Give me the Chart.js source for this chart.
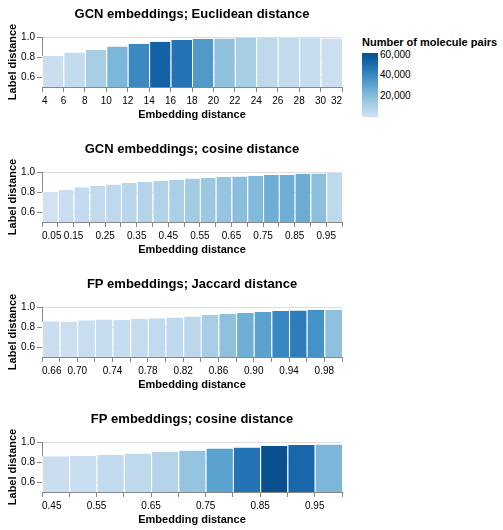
<!DOCTYPE html>
<html>
<head>
<meta charset="utf-8">
<script src="https://cdn.jsdelivr.net/npm/chart.js@4/dist/chart.umd.min.js"></script>
<style>
body { margin: 0; background: #fff; }
#wrap { position: relative; width: 503px; height: 530px; font-family: "Liberation Sans", Arial, sans-serif; }
.plot { position: absolute; left: 0; }
#legendTitle { position: absolute; left: 362px; top: 36px; font-size: 11px; font-weight: bold; line-height: 13px; color: #000; white-space: nowrap; }
#legendBar { position: absolute; left: 362px; top: 53px; width: 16px; height: 64px; }
.legendLabel { position: absolute; left: 380px; font-size: 10px; line-height: 12px; color: #000; }
</style>
</head>
<body>
<div id="wrap">
  <canvas id="gcnEuc" class="plot" width="350" height="135" style="top:0px"></canvas>
  <canvas id="gcnCos" class="plot" width="350" height="135" style="top:135px"></canvas>
  <canvas id="fpJac" class="plot" width="350" height="135" style="top:270px"></canvas>
  <canvas id="fpCos" class="plot" width="350" height="135" style="top:405px"></canvas>
  <div id="legendTitle">Number of molecule pairs</div>
  <div id="legendBar"></div>
</div>
<script>
var FONT = '"Liberation Sans", Arial, sans-serif';

// GCN embeddings; Euclidean distance
var gcnEucEdges = [4, 6, 8, 10, 12, 14, 16, 18, 20, 22, 24, 26, 28, 30, 32];
var gcnEucLabelDist = [0.81, 0.844, 0.871, 0.905, 0.932, 0.953, 0.97, 0.98, 0.986, 0.99, 0.99, 0.99, 0.99, 0.986];
var gcnEucPairs = [2100, 4600, 12500, 23000, 40100, 54200, 48000, 34000, 18700, 12500, 6400, 4600, 3400, 1500];

// GCN embeddings; cosine distance
var gcnCosEdges = [0.05, 0.10, 0.15, 0.20, 0.25, 0.30, 0.35, 0.40, 0.45, 0.50, 0.55, 0.60, 0.65, 0.70, 0.75, 0.80, 0.85, 0.90, 0.95, 1.00];
var gcnCosLabelDist = [0.803, 0.82, 0.847, 0.861, 0.875, 0.89, 0.90, 0.91, 0.92, 0.935, 0.94, 0.95, 0.956, 0.963, 0.97, 0.973, 0.98, 0.986, 0.99];
var gcnCosPairs = [300, 2700, 4600, 5200, 6400, 7600, 8900, 10100, 11900, 13800, 15600, 17400, 19900, 21700, 26000, 26600, 27200, 19300, 6400];

// FP embeddings; Jaccard distance
var fpJacEdges = [0.66, 0.68, 0.70, 0.72, 0.74, 0.76, 0.78, 0.80, 0.82, 0.84, 0.86, 0.88, 0.90, 0.92, 0.94, 0.96, 0.98, 1.00];
var fpJacLabelDist = [0.858, 0.854, 0.868, 0.875, 0.871, 0.88, 0.888, 0.895, 0.905, 0.919, 0.929, 0.939, 0.949, 0.96, 0.966, 0.973, 0.973];
var fpJacPairs = [2100, 1500, 2700, 3400, 3400, 4000, 5200, 5800, 7000, 12500, 18700, 26000, 30900, 40700, 44400, 37000, 18700];

// FP embeddings; cosine distance
var fpCosEdges = [0.45, 0.50, 0.55, 0.60, 0.65, 0.70, 0.75, 0.80, 0.85, 0.90, 0.95, 1.00];
var fpCosLabelDist = [0.858, 0.861, 0.871, 0.885, 0.902, 0.915, 0.936, 0.946, 0.959, 0.969, 0.976];
var fpCosPairs = [2100, 2700, 4600, 5800, 8900, 17400, 30900, 48000, 61500, 52300, 23000];

var yTicks = [0.6, 0.8, 1.0];
var legendTicks = [20000, 40000, 60000];

// vega "blues" scheme
var blues = ['#cfe1f2', '#bed8ec', '#a8cee5', '#8fc1de', '#74b2d7', '#5ba3cf', '#4592c6', '#3181bd', '#206fb2', '#125ea4', '#0a4f90'];

var allPairs = gcnEucPairs.concat(gcnCosPairs, fpJacPairs, fpCosPairs);
var pairMin = Math.min.apply(null, allPairs);
var pairMax = Math.max.apply(null, allPairs);

function hexToRgb(h) {
    return [parseInt(h.substr(1, 2), 16), parseInt(h.substr(3, 2), 16), parseInt(h.substr(5, 2), 16)];
}

function pairColor(n) {
    var t = (n - pairMin) / (pairMax - pairMin);
    t = Math.max(0, Math.min(1, t));
    var pos = t * (blues.length - 1);
    var i = Math.min(Math.floor(pos), blues.length - 2);
    var f = pos - i;
    var a = hexToRgb(blues[i]), b = hexToRgb(blues[i + 1]);
    var c = [0, 1, 2].map(function(k) { return Math.round(a[k] + (b[k] - a[k]) * f); });
    return 'rgb(' + c.join(',') + ')';
}

function makeChart(id, title, edges, dist, pairs, labelEvery, decimals) {
    var points = [];
    for (var i = 0; i < dist.length; i++) {
        points.push({x: (edges[i] + edges[i + 1]) / 2, y: dist[i]});
    }
    var ctx = document.getElementById(id).getContext('2d');
    return new Chart(ctx, {
        type: 'bar',
        data: {
            datasets: [{
                data: points,
                backgroundColor: pairs.map(pairColor),
                borderColor: '#fff',
                borderWidth: {left: 1, right: 0, top: 0, bottom: 0},
                borderSkipped: false,
                inflateAmount: 0,
                barPercentage: 1,
                categoryPercentage: 1
            }]
        },
        options: {
            responsive: false,
            animation: false,
            devicePixelRatio: 1,
            layout: {padding: {left: 6, right: 8, top: 0, bottom: 13}},
            plugins: {
                legend: {display: false},
                tooltip: {enabled: false},
                title: {
                    display: true,
                    text: title,
                    fullSize: false,
                    color: '#000',
                    font: {family: FONT, size: 13, weight: 'bold'},
                    padding: {top: 6.2, bottom: 15.2}
                }
            },
            scales: {
                x: {
                    type: 'linear',
                    offset: false,
                    min: edges[0],
                    max: edges[edges.length - 1],
                    afterBuildTicks: function(s) {
                        s.ticks = edges.map(function(v) { return {value: v}; });
                    },
                    afterFit: function(s) { s.height = 35; },
                    grid: {offset: false, drawOnChartArea: false, drawTicks: true, tickLength: 5, tickColor: '#888'},
                    border: {color: '#888'},
                    ticks: {
                        autoSkip: false,
                        maxRotation: 0,
                        padding: 3,
                        align: 'inner',
                        color: '#000',
                        font: {family: FONT, size: 10},
                        callback: function(v, i) {
                            return i % labelEvery === 0 ? Number(v).toFixed(decimals) : '';
                        }
                    },
                    title: {
                        display: true,
                        text: 'Embedding distance',
                        color: '#000',
                        font: {family: FONT, size: 11, weight: 'bold'},
                        padding: 0
                    }
                },
                y: {
                    min: 0.5,
                    max: 1.0,
                    afterBuildTicks: function(s) {
                        s.ticks = yTicks.map(function(v) { return {value: v}; });
                    },
                    afterFit: function(s) { s.width = 36; },
                    grid: {color: '#ddd', tickColor: '#888', tickLength: 5},
                    border: {color: '#888'},
                    ticks: {
                        padding: 2,
                        color: '#000',
                        font: {family: FONT, size: 10},
                        callback: function(v) { return Number(v).toFixed(1); }
                    },
                    title: {
                        display: true,
                        text: 'Label distance',
                        color: '#000',
                        font: {family: FONT, size: 11, weight: 'bold'},
                        padding: 0
                    }
                }
            }
        }
    });
}

makeChart('gcnEuc', 'GCN embeddings; Euclidean distance', gcnEucEdges, gcnEucLabelDist, gcnEucPairs, 1, 0);
makeChart('gcnCos', 'GCN embeddings; cosine distance', gcnCosEdges, gcnCosLabelDist, gcnCosPairs, 2, 2);
makeChart('fpJac', 'FP embeddings; Jaccard distance', fpJacEdges, fpJacLabelDist, fpJacPairs, 2, 2);
makeChart('fpCos', 'FP embeddings; cosine distance', fpCosEdges, fpCosLabelDist, fpCosPairs, 2, 2);

// colour legend
var stops = blues.map(function(c, i) { return c + ' ' + (i * 100 / (blues.length - 1)) + '%'; });
document.getElementById('legendBar').style.background = 'linear-gradient(to top, ' + stops.join(', ') + ')';
var wrap = document.getElementById('wrap');
legendTicks.forEach(function(v) {
    var el = document.createElement('div');
    el.className = 'legendLabel';
    el.textContent = v.toLocaleString('en-US');
    var y = 53 + 64 * (1 - (v - pairMin) / (pairMax - pairMin));
    el.style.top = (y - 6) + 'px';
    wrap.appendChild(el);
});
</script>
</body>
</html>
